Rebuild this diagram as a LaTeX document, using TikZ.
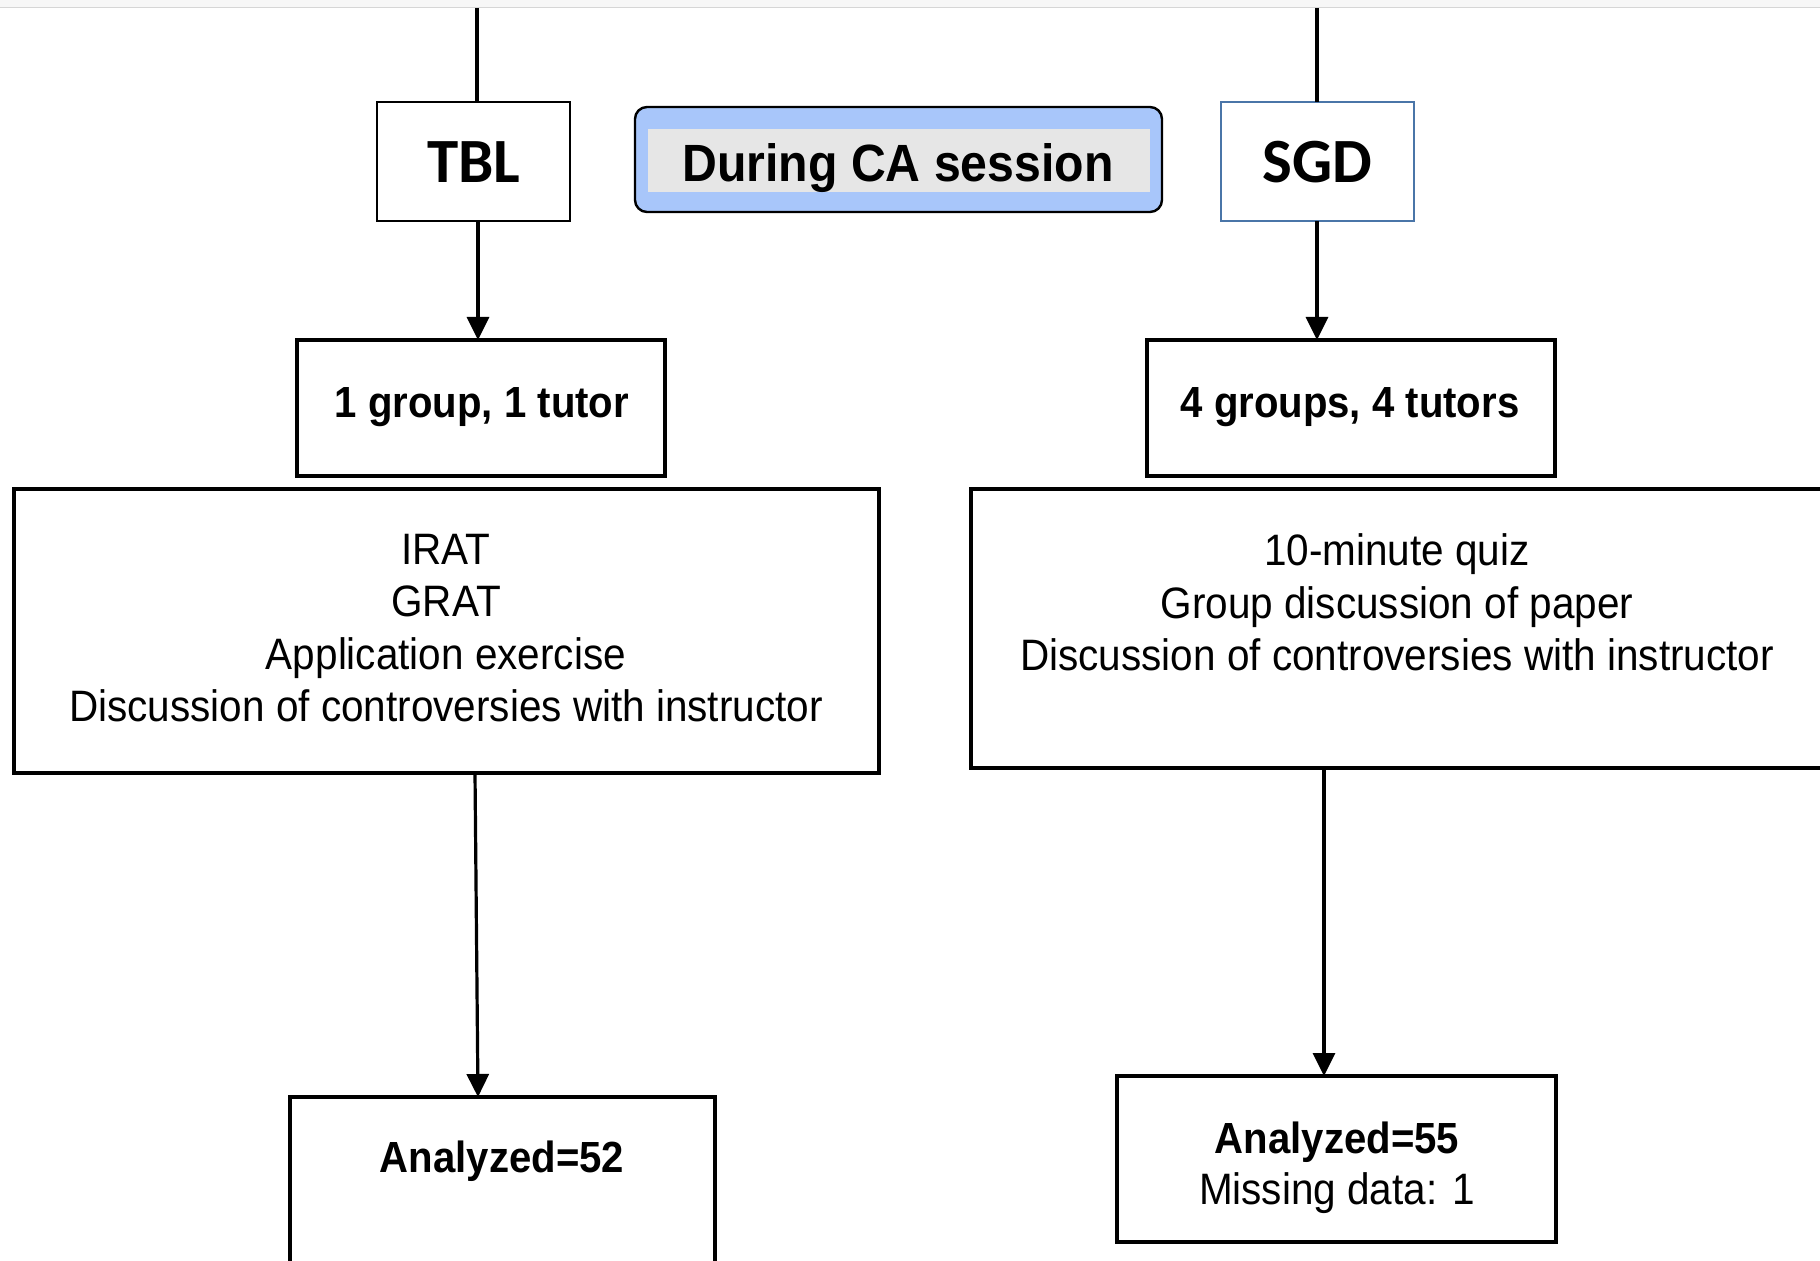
\documentclass[tikz,border=0pt]{standalone}
\usepackage{fontspec}
\usetikzlibrary{arrows.meta}
\newfontfamily\arialn[FakeStretch=0.92]{Liberation Sans}
\newfontfamily\carl{Carlito}
\definecolor{sgdblue}{HTML}{4A75A8}
\definecolor{cafill}{HTML}{A8C6FA}
\definecolor{cagray}{HTML}{E6E6E6}
\definecolor{topband}{HTML}{F7F7F7}
\definecolor{topline}{HTML}{D6D6D6}
\tikzset{
  box/.style={draw=black, line width=2pt, inner sep=0pt, outer sep=0pt, fill=white},
  thinbox/.style={draw=black, line width=1.2pt, inner sep=0pt, outer sep=0pt, fill=white},
  conn/.style={line width=1.6pt},
  arr/.style={conn, -{Triangle[length=11.5pt,width=11pt]}},
  txt/.style={inner sep=0pt, anchor=base, font=\arialn\fontsize{22pt}{26pt}\selectfont},
  btxt/.style={inner sep=0pt, anchor=base, font=\arialn\bfseries\fontsize{21.8pt}{26pt}\selectfont},
  big/.style={inner sep=0pt, anchor=base, font=\carl\bfseries\fontsize{31.5pt}{36pt}\selectfont}
}
\begin{document}
\begin{tikzpicture}[x=0.5pt,y=-0.5pt]
\useasboundingbox (0,0) rectangle (1820,1261);
\clip (0,0) rectangle (1820,1261);
\fill[white] (0,0) rectangle (1820,1261);
\fill[topband] (0,0) rectangle (1820,7);
\draw[topline, line width=0.8pt] (0,7.5) -- (1820,7.5);

% coordinates for connector columns
\coordinate (tTop) at (477,8);
\coordinate (sTop) at (1317,8);
\coordinate (xL) at (478,0);
\coordinate (xL0) at (475,0);
\coordinate (xR) at (1317,0);
\coordinate (xR2) at (1324,0);

% top row
\node[thinbox, minimum width=96.5pt, minimum height=59.5pt] (TBL) at (473.5,161.5) {};
\node[big] (TBLt) at (474,183) {TBL};
\node[thinbox, draw=sgdblue, minimum width=96.5pt, minimum height=59.5pt] (SGD) at (1317.5,161.5) {};
\node[big] (SGDt) at (1317.5,183) {SGD};
\node[draw=black, line width=1.2pt, fill=cafill, rounded corners=6pt, minimum width=263.5pt, minimum height=52.5pt, inner sep=0pt, outer sep=0pt] (CA) at (898.5,159.5) {};
\node[fill=cagray, minimum width=251pt, minimum height=31.5pt, inner sep=0pt] (CAin) at (899,160.5) {};
\node[inner sep=0pt, anchor=base, font=\arialn\bfseries\fontsize{26.2pt}{30pt}\selectfont] (CAt) at (898,182) {During CA session};

% second row
\node[box, minimum width=184pt, minimum height=68pt] (g1) at (481,408) {};
\node[btxt] (g1t) at (482,418) {1 group, 1 tutor};
\node[box, minimum width=204pt, minimum height=68pt] (g4) at (1351,408) {};
\node[btxt] (g4t) at (1350,418) {4 groups, 4 tutors};

% big boxes
\node[box, minimum width=432.5pt, minimum height=142pt] (bigL) at (446.5,631) {};
\node[txt] (L1) at (446,565) {IRAT};
\node[txt] (L2) at (446,617) {GRAT};
\node[txt] (L3) at (446,669) {Application exercise};
\node[txt] (L4) at (446,721) {Discussion of controversies with instructor};

\node[box, minimum width=426.5pt, minimum height=139.5pt] (bigR) at (1397.5,628.5) {};
\node[txt] (R1) at (1397,566) {10-minute quiz};
\node[txt] (R2) at (1397,618) {Group discussion of paper};
\node[txt] (R3) at (1397,670) {Discussion of controversies with instructor};

% bottom boxes
\node[box, minimum width=212.5pt, minimum height=89pt] (a52) at (502.5,1186) {};
\node[btxt] (a52t) at (502,1172) {Analyzed=52};
\node[box, minimum width=219.5pt, minimum height=83pt] (a55) at (1336.5,1159) {};
\node[btxt] (a55t) at (1337,1153) {Analyzed=55};
\node[txt] (a55m) at (1337,1204) {Missing data: 1};

% connectors
\draw[conn] (tTop) -- (tTop |- TBL.north);
\draw[conn] (sTop) -- (sTop |- SGD.north);
\draw[arr] (TBL.south -| xL) -- (g1.north -| xL);
\draw[arr] (SGD.south -| xR) -- (g4.north -| xR);
\draw[arr] (bigL.south -| xL0) -- (a52.north -| xL);
\draw[arr] (bigR.south -| xR2) -- (a55.north -| xR2);
\end{tikzpicture}
\end{document}
